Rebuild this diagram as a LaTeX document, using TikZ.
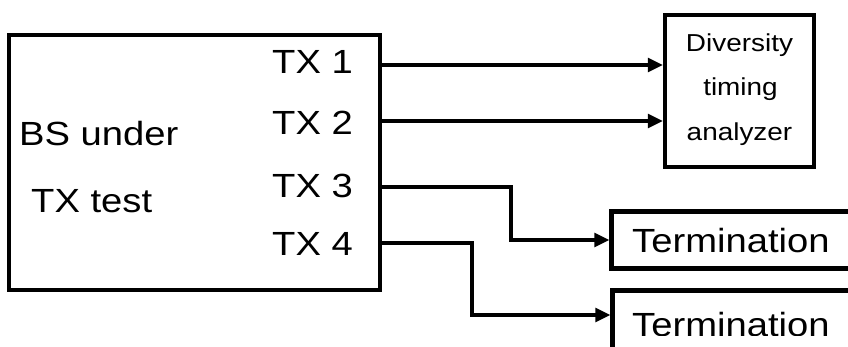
\documentclass[tikz,border=0pt]{standalone}
\usepackage{graphicx}
\usepackage{fontspec}
\setmainfont{Liberation Sans}
\usetikzlibrary{arrows.meta}
\newcommand\wide[1]{\scalebox{1.14}[1]{#1}}
\begin{document}
\begin{tikzpicture}[x=1pt,y=-1pt,
  box/.style={draw, line width=4.5pt, rectangle, inner sep=0pt},
  arr/.style={line width=3.2pt, -{Triangle[length=15pt,width=14pt]}},
  big/.style={font=\fontsize{33.5}{40}\selectfont, inner sep=0pt, anchor=base west},
  small/.style={font=\fontsize{24.5}{30}\selectfont, inner sep=0pt, anchor=base}]
\useasboundingbox (0,0) rectangle (848,347);
\fill[white] (0,0) rectangle (848,347);
% main box
\node[box, minimum width=371pt, minimum height=255pt] (bs) at (194.5,162.5) {};
\node[big] (bsu) at (19,146) {\wide{BS under}};
\node[big] (bst) at (31,213) {\wide{TX test}};
\node[big] (tx1) at (272,74) {\wide{TX 1}};
\node[big] (tx2) at (272,135) {\wide{TX 2}};
\node[big] (tx3) at (272,198) {\wide{TX 3}};
\node[big] (tx4) at (272,256) {\wide{TX 4}};
% analyzer
\node[box, minimum width=149pt, minimum height=152pt] (dta) at (739.5,91) {};
\node[small] (d1) at (739.5,52) {\wide{Diversity}};
\node[small] (d2) at (740.5,96) {\wide{timing}};
\node[small] (d3) at (739.5,141) {\wide{analyzer}};
% terminations
\node[box, minimum width=289pt, minimum height=57pt] (term1) at (756,240) {};
\node[big] (t1) at (632,253) {\wide{Termination}};
\node[box, minimum width=289pt, minimum height=79pt] (term2) at (757,330) {};
\begin{scope}
\clip (600,280) rectangle (848,335);
\node[big] (t2) at (632,336) {\wide{Termination}};
\end{scope}
% connectors
\coordinate (p1) at (380,65);
\coordinate (p2) at (380,121);
\coordinate (p3) at (380,187);
\coordinate (p4) at (380,243);
\coordinate (k3) at (511,240);
\coordinate (k4) at (472,315);
\draw[arr] (p1) -- (p1 -| dta.west);
\draw[arr] (p2) -- (p2 -| dta.west);
\draw[arr] (p3) -| (k3) -- (k3 -| term1.west);
\draw[arr] (p4) -| (k4) -- (k4 -| term2.west);
\end{tikzpicture}
\end{document}
